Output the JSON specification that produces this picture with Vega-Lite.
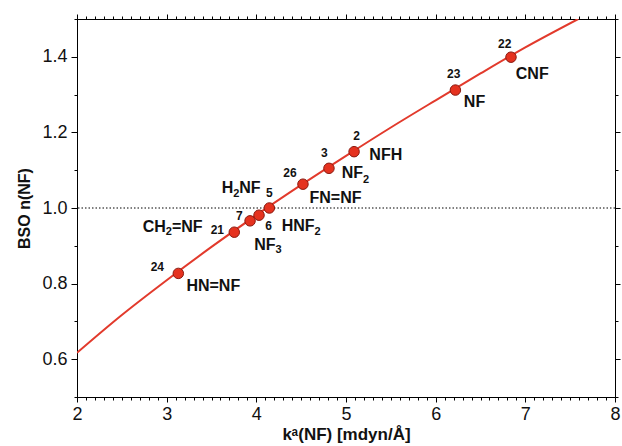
{
  "$schema": "https://vega.github.io/schema/vega-lite/v6.json",
  "width": 538,
  "height": 378,
  "autosize": {"type": "none"},
  "padding": {"left": 77, "top": 19, "right": 7, "bottom": 49},
  "config": {
    "view": {"stroke": "#000", "strokeWidth": 1},
    "font": "Liberation Sans",
    "axis": {
      "domainColor": "#000",
      "tickColor": "#000",
      "labelColor": "#111",
      "titleColor": "#111",
      "grid": false,
      "labelFont": "Liberation Sans",
      "titleFont": "Liberation Sans",
      "labelFontSize": 18,
      "titleFontSize": 16,
      "titleFontWeight": "bold"
    }
  },
  "datasets": {
    "curve": [
      {"k": 2.0, "n": 0.617},
      {"k": 2.5, "n": 0.717},
      {"k": 3.0, "n": 0.809},
      {"k": 3.5, "n": 0.897},
      {"k": 4.0, "n": 0.981},
      {"k": 4.5, "n": 1.061},
      {"k": 5.0, "n": 1.138},
      {"k": 5.5, "n": 1.213},
      {"k": 6.0, "n": 1.285},
      {"k": 6.5, "n": 1.356},
      {"k": 7.0, "n": 1.425},
      {"k": 7.59, "n": 1.5}
    ],
    "pts": [
      {"k": 3.13, "n": 0.827, "id": "24"},
      {"k": 3.754, "n": 0.936, "id": "21"},
      {"k": 3.93, "n": 0.966, "id": "7"},
      {"k": 4.03, "n": 0.981, "id": "6"},
      {"k": 4.145, "n": 1.0, "id": "5"},
      {"k": 4.52, "n": 1.063, "id": "26"},
      {"k": 4.81, "n": 1.105, "id": "3"},
      {"k": 5.09, "n": 1.149, "id": "2"},
      {"k": 6.22, "n": 1.312, "id": "23"},
      {"k": 6.84, "n": 1.399, "id": "22"}
    ],
    "nums": [
      {"k": 2.896, "n": 0.833, "t": "24"},
      {"k": 3.565, "n": 0.93, "t": "21"},
      {"k": 3.81, "n": 0.9675, "t": "7"},
      {"k": 4.138, "n": 0.942, "t": "6"},
      {"k": 4.145, "n": 1.029, "t": "5"},
      {"k": 4.375, "n": 1.083, "t": "26"},
      {"k": 4.758, "n": 1.135, "t": "3"},
      {"k": 5.119, "n": 1.18, "t": "2"},
      {"k": 6.201, "n": 1.343, "t": "23"},
      {"k": 6.77, "n": 1.422, "t": "22"}
    ],
    "namesC": [
      {"k": 3.52, "n": 0.781, "t": "HN=NF"},
      {"k": 4.883, "n": 1.012, "t": "FN=NF"},
      {"k": 5.444, "n": 1.126, "t": "NFH"},
      {"k": 6.433, "n": 1.266, "t": "NF"},
      {"k": 7.077, "n": 1.341, "t": "CNF"}
    ],
    "namesL": [
      {"k": 2.733, "n": 0.937, "t": "CH"},
      {"k": 3.059, "n": 0.937, "t": "=NF"},
      {"k": 3.977, "n": 0.889, "t": "NF"},
      {"k": 4.283, "n": 0.939, "t": "HNF"},
      {"k": 3.614, "n": 1.039, "t": "H"},
      {"k": 3.81, "n": 1.039, "t": "NF"},
      {"k": 4.952, "n": 1.079, "t": "NF"}
    ],
    "subs": [
      {"k": 2.99, "n": 0.929, "t": "2"},
      {"k": 4.215, "n": 0.88, "t": "3"},
      {"k": 4.65, "n": 0.929, "t": "2"},
      {"k": 3.742, "n": 1.029, "t": "2"},
      {"k": 5.19, "n": 1.067, "t": "2"}
    ]
  },
  "resolve": {"axis": {"x": "independent", "y": "independent"}},
  "layer": [
    {
      "data": {"values": [{"n": 1.0}]},
      "mark": {"type": "rule", "color": "#000", "strokeWidth": 1, "strokeDash": [1.5, 2]},
      "encoding": {
        "y": {"field": "n", "type": "quantitative", "scale": {"domain": [0.5, 1.5]}, "axis": null}
      }
    },
    {
      "data": {"name": "curve"},
      "mark": {"type": "line", "color": "#e23a2c", "strokeWidth": 2, "clip": true, "interpolate": "monotone"},
      "encoding": {
        "x": {
          "field": "k", "type": "quantitative",
          "scale": {"domain": [2, 8], "nice": false, "zero": false},
          "axis": {
            "orient": "top", "title": null, "labels": false, "domain": true,
            "values": [2,2.1,2.2,2.3,2.4,2.5,2.6,2.7,2.8,2.9,3,3.1,3.2,3.3,3.4,3.5,3.6,3.7,3.8,3.9,4,4.1,4.2,4.3,4.4,4.5,4.6,4.7,4.8,4.9,5,5.1,5.2,5.3,5.4,5.5,5.6,5.7,5.8,5.9,6,6.1,6.2,6.3,6.4,6.5,6.6,6.7,6.8,6.9,7,7.1,7.2,7.3,7.4,7.5,7.6,7.7,7.8,7.9,8],
            "tickSize": {"condition": {"test": "abs(datum.value - round(datum.value)) < 0.001", "value": 5}, "value": 3}
          }
        },
        "y": {
          "field": "n", "type": "quantitative",
          "scale": {"domain": [0.5, 1.5], "nice": false, "zero": false},
          "axis": {
            "orient": "right", "title": null, "labels": false, "domain": true,
            "values": [0.5,0.6,0.7,0.8,0.9,1.0,1.1,1.2,1.3,1.4,1.5],
            "tickSize": {"condition": {"test": "abs(datum.value*5 - round(datum.value*5)) < 0.001", "value": 5}, "value": 3}
          }
        }
      }
    },
    {
      "data": {"name": "pts"},
      "mark": {"type": "circle", "size": 110, "fill": "#e5321f", "stroke": "#8a1a10", "strokeWidth": 1, "opacity": 1},
      "encoding": {
        "x": {
          "field": "k", "type": "quantitative",
          "scale": {"domain": [2, 8], "nice": false, "zero": false},
          "axis": {
            "orient": "bottom", "title": "kᵃ(NF) [mdyn/Å]", "titlePadding": 3, "titleFontSize": 17,
            "values": [2,2.1,2.2,2.3,2.4,2.5,2.6,2.7,2.8,2.9,3,3.1,3.2,3.3,3.4,3.5,3.6,3.7,3.8,3.9,4,4.1,4.2,4.3,4.4,4.5,4.6,4.7,4.8,4.9,5,5.1,5.2,5.3,5.4,5.5,5.6,5.7,5.8,5.9,6,6.1,6.2,6.3,6.4,6.5,6.6,6.7,6.8,6.9,7,7.1,7.2,7.3,7.4,7.5,7.6,7.7,7.8,7.9,8],
            "labelExpr": "abs(datum.value - round(datum.value)) < 0.001 ? format(datum.value, 'd') : ''",
            "labelPadding": 3,
            "labelFlush": false,
            "labelOverlap": false,
            "tickSize": {"condition": {"test": "abs(datum.value - round(datum.value)) < 0.001", "value": 5}, "value": 3}
          }
        },
        "y": {
          "field": "n", "type": "quantitative",
          "scale": {"domain": [0.5, 1.5], "nice": false, "zero": false},
          "axis": {
            "orient": "left", "title": "BSO n(NF)", "titlePadding": 9,
            "values": [0.5,0.6,0.7,0.8,0.9,1.0,1.1,1.2,1.3,1.4,1.5],
            "labelExpr": "abs(datum.value*5 - round(datum.value*5)) < 0.001 && datum.value > 0.55 && datum.value < 1.45 ? format(datum.value, '.1f') : ''",
            "labelPadding": 4,
            "labelFlush": false,
            "labelOverlap": false,
            "tickSize": {"condition": {"test": "abs(datum.value*5 - round(datum.value*5)) < 0.001", "value": 6}, "value": 3}
          }
        }
      }
    },
    {
      "data": {"name": "nums"},
      "mark": {"type": "text", "font": "Liberation Sans", "fontWeight": "bold", "fontSize": 12, "color": "#111", "align": "center", "baseline": "alphabetic"},
      "encoding": {
        "x": {"field": "k", "type": "quantitative", "axis": null},
        "y": {"field": "n", "type": "quantitative", "axis": null},
        "text": {"field": "t"}
      }
    },
    {
      "data": {"name": "namesC"},
      "mark": {"type": "text", "font": "Liberation Sans", "fontWeight": "bold", "fontSize": 16, "color": "#111", "align": "center", "baseline": "alphabetic"},
      "encoding": {
        "x": {"field": "k", "type": "quantitative", "axis": null},
        "y": {"field": "n", "type": "quantitative", "axis": null},
        "text": {"field": "t"}
      }
    },
    {
      "data": {"name": "namesL"},
      "mark": {"type": "text", "font": "Liberation Sans", "fontWeight": "bold", "fontSize": 16, "color": "#111", "align": "left", "baseline": "alphabetic"},
      "encoding": {
        "x": {"field": "k", "type": "quantitative", "axis": null},
        "y": {"field": "n", "type": "quantitative", "axis": null},
        "text": {"field": "t"}
      }
    },
    {
      "data": {"name": "subs"},
      "mark": {"type": "text", "font": "Liberation Sans", "fontWeight": "bold", "fontSize": 11, "color": "#111", "align": "left", "baseline": "alphabetic"},
      "encoding": {
        "x": {"field": "k", "type": "quantitative", "axis": null},
        "y": {"field": "n", "type": "quantitative", "axis": null},
        "text": {"field": "t"}
      }
    }
  ]
}
